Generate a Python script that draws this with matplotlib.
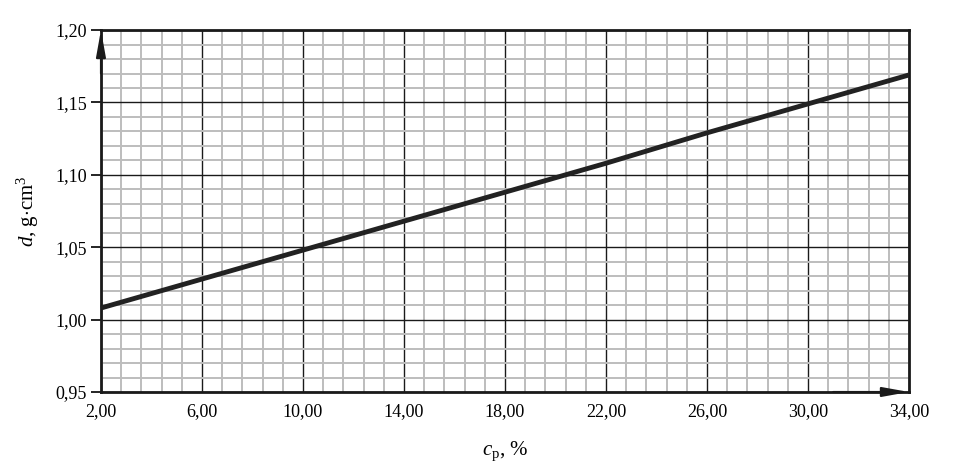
import numpy as np
import matplotlib
matplotlib.use('Agg')
import matplotlib.pyplot as plt
from matplotlib.ticker import FixedLocator, FuncFormatter

plt.rcParams['font.family'] = 'Liberation Serif'
plt.rcParams['mathtext.fontset'] = 'custom'
plt.rcParams['mathtext.rm'] = 'Liberation Serif'
plt.rcParams['mathtext.it'] = 'Liberation Serif:italic'

# stężenie procentowe i gęstość
cp = [2, 6, 10, 14, 18, 22, 26, 30, 34]
d = [1.008, 1.028, 1.048, 1.068, 1.088, 1.108, 1.129, 1.149, 1.169]

x_ticks = [2, 6, 10, 14, 18, 22, 26, 30, 34]
y_ticks = [0.95, 1.00, 1.05, 1.10, 1.15, 1.20]

fig = plt.figure(figsize=(9.57, 4.70), dpi=100)
ax = fig.add_axes([0.1055, 0.166, 0.8443, 0.770])

ax.set_xlim(2, 34)
ax.set_ylim(0.95, 1.20)
ax.set_xticks(x_ticks)
ax.set_yticks(y_ticks)

# drobna siatka: 5 pól w każdym dużym polu
xm = [v for v in np.linspace(2, 34, 41) if round((v - 2) / 0.8) % 5 != 0]
ym = [v for v in np.linspace(0.95, 1.20, 26) if round((v - 0.95) / 0.01) % 5 != 0]
ax.xaxis.set_minor_locator(FixedLocator(xm))
ax.yaxis.set_minor_locator(FixedLocator(ym))

komma = FuncFormatter(lambda v, p: ('%.2f' % v).replace('.', ','))
ax.xaxis.set_major_formatter(komma)
ax.yaxis.set_major_formatter(komma)

ax.grid(which='minor', color='#bdbdbd', lw=1.4, zorder=0)
ax.grid(which='major', color='#1a1a1a', lw=1.0, zorder=1)
ax.set_axisbelow(True)

ax.tick_params(axis='x', which='both', length=0, pad=8, labelsize=13)
ax.tick_params(axis='y', which='major', length=7, width=1.2, direction='out', pad=3, labelsize=13)
ax.tick_params(axis='y', which='minor', length=0)

for s in ax.spines.values():
    s.set_color('#1a1a1a')
    s.set_linewidth(2.0)

ax.plot(cp, d, color='#222222', lw=3.5, solid_capstyle='butt', zorder=3, clip_on=False)

# strzałki na osiach
strz = dict(arrowstyle='-|>,head_width=0.18,head_length=1.0', color='#1a1a1a', lw=1.5,
            mutation_scale=16, shrinkA=0, shrinkB=0)
ax.annotate('', xy=(2, 1.20), xytext=(2, 1.17), arrowprops=strz, zorder=4)
ax.annotate('', xy=(34, 0.95), xytext=(31, 0.95), arrowprops=strz, zorder=4)

ax.set_xlabel(r'$c_\mathrm{p}$, %', fontsize=15, labelpad=14)
ax.set_ylabel(r'$d$, g$\cdot$cm$^{3}$', fontsize=15, labelpad=10)

fig.savefig('out.png', dpi=100)
